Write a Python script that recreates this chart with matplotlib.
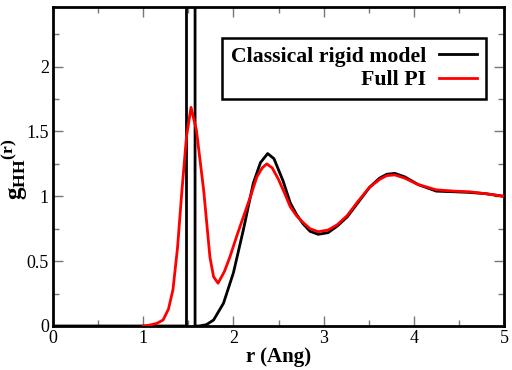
import matplotlib
matplotlib.use("Agg")
import matplotlib.pyplot as plt
from matplotlib.ticker import MultipleLocator

# Classical rigid model (intramolecular H-H delta peak drawn as an off-scale spike)
r_cl = [0.0, 1.48, 1.48, 1.575, 1.575, 1.62, 1.70, 1.78, 1.89, 2.00, 2.11, 2.22, 2.30, 2.38,
        2.45, 2.55, 2.63, 2.70, 2.77, 2.85, 2.94, 3.05, 3.15, 3.26, 3.38, 3.51, 3.62, 3.70,
        3.79, 3.90, 4.05, 4.25, 4.45, 4.62, 4.80, 5.0]
g_cl = [0.0, 0.0, 10.0, 10.0, 0.0, 0.0, 0.01, 0.046, 0.175, 0.41, 0.74, 1.10, 1.26, 1.33,
        1.29, 1.12, 0.95, 0.86, 0.79, 0.73, 0.707, 0.72, 0.77, 0.84, 0.95, 1.07, 1.14, 1.17,
        1.177, 1.15, 1.09, 1.04, 1.035, 1.03, 1.02, 1.0]

# Full PI
r_pi = [1.0, 1.06, 1.15, 1.22, 1.28, 1.33, 1.38, 1.43, 1.48, 1.53, 1.59, 1.67, 1.74, 1.78,
        1.83, 1.90, 1.96, 2.04, 2.11, 2.19, 2.26, 2.32, 2.37, 2.43, 2.50, 2.57, 2.63, 2.70,
        2.77, 2.85, 2.94, 3.05, 3.15, 3.26, 3.38, 3.51, 3.62, 3.70, 3.79, 3.90, 4.05, 4.25,
        4.45, 4.62, 4.80, 5.0]
g_pi = [0.0, 0.005, 0.02, 0.046, 0.13, 0.28, 0.60, 1.05, 1.46, 1.686, 1.51, 1.05, 0.53, 0.38,
        0.33, 0.42, 0.53, 0.70, 0.84, 1.00, 1.15, 1.22, 1.25, 1.22, 1.13, 1.02, 0.92, 0.85,
        0.80, 0.75, 0.727, 0.74, 0.78, 0.85, 0.96, 1.07, 1.13, 1.16, 1.165, 1.14, 1.09, 1.05,
        1.04, 1.035, 1.02, 1.0]

labels = ["Classical rigid model", "Full PI"]
xticks = [0, 1, 2, 3, 4, 5]
xticklabels = ["0", "1", "2", "3", "4", "5"]
yticks = [0, 0.5, 1, 1.5, 2]
yticklabels = ["0", "0.5", "1", "1.5", "2"]

plt.rcParams['font.family'] = ['Liberation Serif', 'DejaVu Serif']
plt.rcParams['mathtext.fontset'] = 'custom'
plt.rcParams['mathtext.rm'] = 'Liberation Serif'
plt.rcParams['mathtext.bf'] = 'Liberation Serif:bold'
plt.rcParams['mathtext.it'] = 'Liberation Serif:italic'

fig = plt.figure(figsize=(5.12, 3.70), dpi=100)
ax = fig.add_axes([53/512, 1 - 326/370, (504-53)/512, (326-7)/370])

ax.plot(r_cl, g_cl, color='black', lw=2.0, label=labels[0], zorder=3)
ax.plot(r_pi, g_pi, color='red', lw=2.0, label=labels[1], zorder=4)

ax.set_xlim(0, 5)
ax.set_ylim(0, 2.46)
ax.set_xticks(xticks)
ax.set_xticklabels(xticklabels)
ax.set_yticks(yticks)
ax.set_yticklabels(yticklabels)
ax.xaxis.set_minor_locator(MultipleLocator(0.5))
ax.yaxis.set_minor_locator(MultipleLocator(0.25))
ax.tick_params(which='both', direction='in', top=True, right=True, color='#777777', width=1)
ax.tick_params(which='major', length=7, labelsize=13, pad=3)
ax.tick_params(which='minor', length=4)
for s in ax.spines.values():
    s.set_linewidth(2.0)
    s.set_color('black')

ax.set_xlabel('r (Ang)', fontsize=15, fontweight='bold', labelpad=0)
ylab = ax.set_ylabel(r'$\mathbf{g_{HH}{}^{(r)}}$', fontsize=18)
ax.yaxis.set_label_coords(-0.053, 0.49)

leg = ax.legend(loc='upper right', bbox_to_anchor=(0.96, 0.903), markerfirst=False,
                fancybox=False, framealpha=1, edgecolor='black',
                prop={'weight': 'bold', 'size': 15.7}, handlelength=1.75,
                borderpad=0.4, labelspacing=0.15, handletextpad=0.6, borderaxespad=0)
leg.get_frame().set_linewidth(1.8)
for t in leg.get_texts():
    t.set_ha('right')
leg._legend_box.align = 'right'
for vp in leg._legend_box.get_children()[1].get_children():
    vp.align = 'right'

fig.savefig('out.png', dpi=100)
